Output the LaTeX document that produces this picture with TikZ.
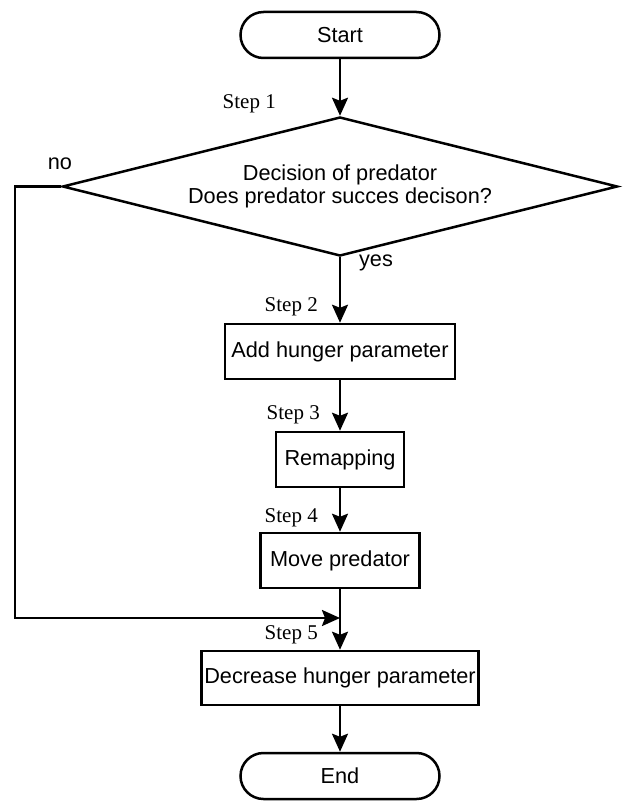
\documentclass[tikz,border=0pt]{standalone}
\usepackage{fontspec}
\setmainfont{Liberation Serif}
\newfontfamily\arialfont{Liberation Sans}
\usetikzlibrary{shapes.geometric,arrows.meta}
\begin{document}
\begin{tikzpicture}[x=1pt,y=-1pt,line width=2.5pt,
  >={Stealth[length=18pt,width=16pt,inset=3pt]},
  box/.style={draw,rectangle,inner sep=0pt,font=\fontsize{21.7}{23}\selectfont\arialfont},
  term/.style={box,rounded corners=23pt,minimum width=199pt,minimum height=46pt},
  steplabel/.style={anchor=east,inner sep=0pt,font=\fontsize{21}{24}\selectfont}]
\useasboundingbox (0,0) rectangle (627,802);
\node[term] (start) at (340,35) {Start};
\node[box,diamond,aspect=4,minimum width=555pt,minimum height=139pt,align=center] (dec) at (340,186.5) {Decision of predator\\Does predator succes decison?};
\node[box,minimum width=230pt,minimum height=55pt] (add) at (340,351.5) {Add hunger parameter};
\node[box,minimum width=128pt,minimum height=55pt] (remap) at (340,459.5) {Remapping};
\node[box,minimum width=159pt,minimum height=55pt] (move) at (340,560.5) {Move predator};
\node[box,minimum width=277pt,minimum height=54pt] (decr) at (340,678) {Decrease hunger parameter};
\node[term] (end) at (340,776) {End};
%step labels
\node[steplabel] (s1) at (277,104) {Step 1};
\node[steplabel] (s2) at (319,307) {Step 2};
\node[steplabel] (s3) at (321,415) {Step 3};
\node[steplabel] (s4) at (319,518) {Step 4};
\node[steplabel] (s5) at (319,635) {Step 5};
\node[box,draw=none] (no) at (60,164) {no};
\node[box,draw=none] (yes) at (376,263) {yes};
%connectors
\draw[->](start)--(dec);
\draw[->](dec)--(add);
\draw[->](add)--(remap);
\draw[->](remap)--(move);
\draw[->](move)--(decr);
\coordinate (join) at (340,618);
\draw[->](dec.west)-|(15,618)--(join);
\draw[->](decr)--(end);
\end{tikzpicture}
\end{document}
